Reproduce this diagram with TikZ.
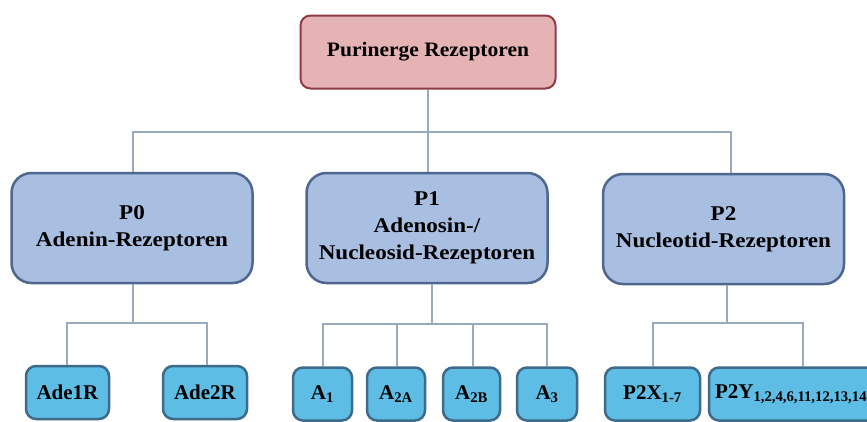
\documentclass[tikz,border=0pt]{standalone}
\usepackage{fontspec}
\setmainfont{Liberation Serif}
\newfontfamily\topfont[FakeStretch=1.05]{Liberation Serif}
\newfontfamily\midfont[FakeStretch=1.1]{Liberation Serif}
\definecolor{topfill}{HTML}{E6B3B5}
\definecolor{topdraw}{HTML}{8E3B45}
\definecolor{midfill}{HTML}{A8BFE2}
\definecolor{middraw}{HTML}{4F668E}
\definecolor{botfill}{HTML}{5EBDE4}
\definecolor{botdraw}{HTML}{3F6B8B}
\definecolor{linec}{HTML}{98AABD}
\tikzset{
  topbox/.style={draw=topdraw, fill=topfill, line width=2pt, rounded corners=10pt,
    minimum width=255pt, minimum height=73pt, inner sep=0pt,
    font=\topfont\bfseries\fontsize{20.5}{24}\selectfont},
  midbox/.style={draw=middraw, fill=midfill, line width=2.5pt, rounded corners=20pt,
    minimum width=241pt, minimum height=110pt, inner sep=0pt, align=center,
    font=\midfont\bfseries\fontsize{21}{27}\selectfont},
  botbox/.style={draw=botdraw, fill=botfill, line width=2.5pt, rounded corners=10pt,
    minimum height=53pt, inner sep=0pt,
    font=\bfseries\fontsize{21}{24}\selectfont},
  conn/.style={draw=linec, line width=1.2pt}
}
\begin{document}
\begin{tikzpicture}[x=1pt,y=-1pt]
\useasboundingbox (0,0) rectangle (867,421);
\clip (0,0) rectangle (867,421);
\fill[white] (0,0) rectangle (867,421);
% nodes
\node[topbox] (top) at (428,52) {Purinerge Rezeptoren};
\node[midbox] (p0) at (132,228) {P0\\Adenin-Rezeptoren};
\node[midbox] (p1) at (427,228) {P1\\Adenosin-/\\Nucleosid-Rezeptoren};
\node[midbox] (p2) at (723.5,229) {P2\\Nucleotid-Rezeptoren};
\node[botbox, minimum width=83pt] (ade1) at (67.5,392.5) {Ade1R};
\node[botbox, minimum width=84pt] (ade2) at (205,392.5) {Ade2R};
\node[botbox, minimum width=59pt] (a1) at (322.5,394) {A\textsubscript{1}};
\node[botbox, minimum width=58pt] (a2a) at (396,394) {A\textsubscript{2A}};
\node[botbox, minimum width=57pt] (a2b) at (471.5,394) {A\textsubscript{2B}};
\node[botbox, minimum width=60pt] (a3) at (547,394) {A\textsubscript{3}};
\node[botbox, minimum width=95pt] (p2x) at (652.5,394) {P2X\textsubscript{1-7}};
\node[botbox, text width=176pt, inner xsep=6pt, align=left] (p2y) at (803,394) {P2Y\textsubscript{1,2,4,6,11,12,13,14}};
% coordinates for junctions
\coordinate (j0) at (428,132);
\coordinate (j1) at (133,323);
\coordinate (j2) at (432,324);
\coordinate (j3) at (727,323);
% connectors
\draw[conn] (top.south) -- (j0);
\draw[conn] (p0.north -| 133,0) |- (j0 -| 133,0) -- (j0 -| 731,0) |- (p2.north -| 731,0);
\draw[conn] (j0) -- (p1.north -| j0);
\draw[conn] (p0.south -| j1) -- (j1);
\draw[conn] (ade1.north -| 67,0) |- (j1) -| (ade2.north -| 207,0);
\draw[conn] (p1.south -| j2) -- (j2);
\draw[conn] (a1.north -| 323,0) |- (j2) -| (a3.north -| 547,0);
\draw[conn] (a2a.north -| 397,0) -- (397,324);
\draw[conn] (a2b.north -| 473,0) -- (473,324);
\draw[conn] (p2.south -| j3) -- (j3);
\draw[conn] (p2x.north -| 653,0) |- (j3) -| (p2y.north -| 803,0);
\end{tikzpicture}
\end{document}
